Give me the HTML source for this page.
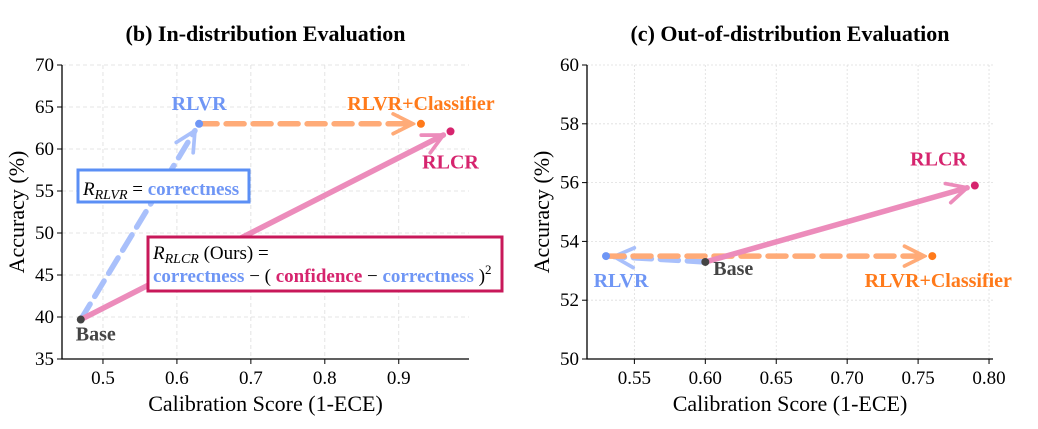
<!DOCTYPE html>
<html><head><meta charset="utf-8"><style>
html,body{margin:0;padding:0;background:#fff}
svg, svg text, svg tspan{font-family:"Liberation Serif","DejaVu Serif",serif !important}
</style></head><body>
<svg id="c" width="1038" height="424" viewBox="0 0 1038 424" xmlns="http://www.w3.org/2000/svg" font-family="Liberation Serif, serif">
<defs>
<marker id="mb" viewBox="0 0 10 10" refX="9" refY="5" markerWidth="4.5" markerHeight="4.5" orient="auto-start-reverse" markerUnits="strokeWidth"><path d="M1,1 L9,5 L1,9" fill="none" stroke="context-stroke" stroke-width="1.5" stroke-linecap="round"/></marker>
</defs>
<g id="gL"></g><g id="gR"></g>
</svg>
<script>
// ---- data ----
const leftTicksX=[0.5,0.6,0.7,0.8,0.9];
const leftTicksY=[35,40,45,50,55,60,65,70];
const leftNames=["Base","RLVR","RLVR+Classifier","RLCR"];
const leftCal=[0.47,0.63,0.93,0.97];
const leftAcc=[39.7,63.0,63.0,62.1];
const rightTicksX=[0.55,0.60,0.65,0.70,0.75,0.80];
const rightTicksY=[50,52,54,56,58,60];
const rightNames=["Base","RLVR","RLVR+Classifier","RLCR"];
const rightCal=[0.60,0.53,0.76,0.79];
const rightAcc=[53.3,53.5,53.5,55.9];

const NS="http://www.w3.org/2000/svg";
const FF="Liberation Serif, DejaVu Serif, serif";
function mk(p,t,a,txt){const e=document.createElementNS(NS,t);for(const k in a)e.setAttribute(k,a[k]);if(t==="text")e.setAttribute("font-family",FF);if(txt!==undefined)e.textContent=txt;p.appendChild(e);return e;}
const COL={"RLVR":"#6f96f5","RLVR+Classifier":"#ff7a1a","RLCR":"#d6246e","Base":"#444"};
const LINE={"RLVR":"#a9c0fb","RLVR+Classifier":"#ffab78","RLCR":"#ec8cbb"};

function panel(g,o){
  const sx=v=>o.x0+(v-o.xmin)/(o.xmax-o.xmin)*(o.x1-o.x0);
  const sy=v=>o.y0-(v-o.ymin)/(o.ymax-o.ymin)*(o.y0-o.y1);
  let t=mk(g,"text",{x:(o.x0+o.x1)/2,y:41,"text-anchor":"middle","font-size":22,"font-weight":"bold"},o.title);
  
  
  o.tx.forEach(v=>{
    let l=mk(g,"line",{x1:sx(v),x2:sx(v),y1:o.y1,y2:o.y0,stroke:"#ddd","stroke-dasharray":o.dash,"stroke-width":0.8});
    
    
    mk(g,"line",{x1:sx(v),x2:sx(v),y1:o.y0,y2:o.y0+5,stroke:"#000"});
    let tl=mk(g,"text",{x:sx(v),y:o.y0+25,"text-anchor":"middle","font-size":19},o.fmt(v));
    
    
  });
  o.ty.forEach(v=>{
    let l=mk(g,"line",{x1:o.x0,x2:o.x1,y1:sy(v),y2:sy(v),stroke:"#ddd","stroke-dasharray":o.dash,"stroke-width":0.8});
    
    
    mk(g,"line",{x1:o.x0-5,x2:o.x0,y1:sy(v),y2:sy(v),stroke:"#000"});
    let tl=mk(g,"text",{x:o.x0-8,y:sy(v)+6,"text-anchor":"end","font-size":19},String(v));
    
    
  });
  let ax=mk(g,"path",{d:`M${o.x0},${o.y1} V${o.y0} H${o.x1}`,fill:"none",stroke:"#000","stroke-width":1.3});
  
  
  let xl=mk(g,"text",{x:(o.x0+o.x1)/2,y:411,"text-anchor":"middle","font-size":22},"Calibration Score (1-ECE)");
  
  
  const cy=(o.y0+o.y1)/2;
  let yl=mk(g,"text",{x:o.x0-38,y:cy,"text-anchor":"middle","font-size":22,transform:`rotate(-90 ${o.x0-38} ${cy})`},"Accuracy (%)");
  
  
  const bx=sx(o.cal[0]),by=sy(o.acc[0]);
  for(let i=1;i<o.names.length;i++){
    const n=o.names[i];
    const ex=sx(o.cal[i]),ey=sy(o.acc[i]);
    const sxp=(n==="RLVR+Classifier")?sx(o.clsFrom[0]):bx, syp=(n==="RLVR+Classifier")?sy(o.clsFrom[1]):by;
    const dx=ex-sxp,dy=ey-syp,L=Math.hypot(dx,dy),sh=8;
    const a={x1:sxp,y1:syp,x2:ex-dx/L*sh,y2:ey-dy/L*sh,stroke:LINE[n],"stroke-width":5.5,"stroke-linecap":"round","marker-end":"url(#mb)"};
    if(n!=="RLCR")a["stroke-dasharray"]="18,9";
    let ar=mk(g,"line",a);
    
    
  }
  for(let i=0;i<o.names.length;i++){
    const n=o.names[i];
    let p=mk(g,"circle",{cx:sx(o.cal[i]),cy:sy(o.acc[i]),r:4,fill:COL[n]});
    
    
    const lp=o.lab[i];
    let tl=mk(g,"text",{x:sx(o.cal[i])+lp[0],y:sy(o.acc[i])+lp[1],"text-anchor":lp[2],"font-size":20,"font-weight":"bold",fill:COL[n]},n);
    
    
  }
}
panel(document.getElementById("gL"),{title:"(b) In-distribution Evaluation",x0:62,x1:469,y0:359,y1:65,xmin:0.4446,xmax:0.995,ymin:35,ymax:70,
  tx:leftTicksX,ty:leftTicksY,fmt:v=>v.toFixed(1),dash:"4,3",names:leftNames,cal:leftCal,acc:leftAcc,clsFrom:[leftCal[1],leftAcc[1]],
  lab:[[-5,21,"start"],[0,-14,"middle"],[0,-14,"middle"],[0,37,"middle"]]});
panel(document.getElementById("gR"),{title:"(c) Out-of-distribution Evaluation",x0:587,x1:993,y0:359,y1:65,xmin:0.5166,xmax:0.8028,ymin:50,ymax:60,
  tx:rightTicksX,ty:rightTicksY,fmt:v=>v.toFixed(2),dash:"2,2",names:rightNames,cal:rightCal,acc:rightAcc,clsFrom:[rightCal[1],rightAcc[1]],
  lab:[[8,13,"start"],[15,31,"middle"],[6,31,"middle"],[-8,-20,"end"]]});
const g=document.getElementById("gL");
let b1=mk(g,"rect",{x:78,y:170,width:171,height:32,fill:"#fff",stroke:"#5b8ff5","stroke-width":3});


let t1=mk(g,"text",{x:83,y:195,"font-size":19});


t1.innerHTML='<tspan font-style="italic">R</tspan><tspan font-style="italic" font-size="14" dy="4">RLVR</tspan><tspan dy="-4"> = </tspan><tspan fill="#6f96f5" font-weight="bold">correctness</tspan>';
let b2=mk(g,"rect",{x:148,y:237,width:354,height:54,fill:"#fff",stroke:"#c8185a","stroke-width":3});


let t2=mk(g,"text",{x:153,y:259,"font-size":19});


t2.innerHTML='<tspan font-style="italic">R</tspan><tspan font-style="italic" font-size="14" dy="4">RLCR</tspan><tspan dy="-4"> (Ours) =</tspan>';
let t3=mk(g,"text",{x:153,y:282,"font-size":19});


t3.innerHTML='<tspan fill="#6f96f5" font-weight="bold">correctness</tspan> − ( <tspan fill="#d6246e" font-weight="bold">confidence</tspan> − <tspan fill="#6f96f5" font-weight="bold">correctness</tspan> )<tspan font-size="13" dy="-8">2</tspan>';
</script>
</body></html>
